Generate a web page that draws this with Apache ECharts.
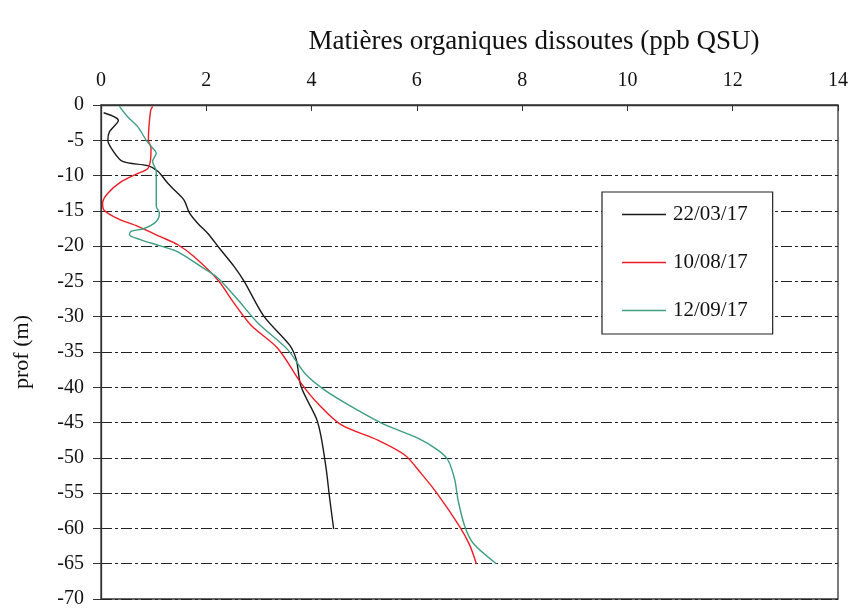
<!DOCTYPE html>
<html>
<head>
<meta charset="utf-8">
<script src="https://cdn.jsdelivr.net/npm/echarts@6/dist/echarts.min.js"></script>
<style>html,body{margin:0;padding:0;background:#fff}#c{width:851px;height:612px}</style>
</head>
<body>
<div id="c"></div>
<script>
// Data (value in ppb QSU, depth in m)
const seriesNames = ['22/03/17', '10/08/17', '12/09/17'];

const blackVal   = [0.05, 0.33, 0.16, 0.13, 0.22, 0.41, 0.89, 1.08, 1.27, 1.43, 1.58, 1.68, 1.84, 2.03, 2.25, 2.53, 2.72, 3.10, 3.58, 3.71, 3.80, 4.09, 4.18, 4.28, 4.34, 4.42];
const blackDepth = [-1.1, -2.2, -3.8, -5.0, -6.4, -8.0, -8.6, -9.4, -11.1, -12.3, -13.5, -15.3, -16.8, -18.2, -20.3, -22.9, -25.0, -30.0, -34.0, -36.1, -39.9, -44.4, -47.0, -51.7, -55.5, -60.1];

const redVal   = [0.98, 0.94, 0.90, 0.95, 0.94, 0.89, 0.70, 0.38, 0.13, 0.03, 0.06, 0.32, 0.70, 1.14, 1.46, 1.77, 2.22, 2.53, 2.85, 3.36, 3.80, 4.12, 4.56, 5.26, 5.77, 6.08, 6.40, 6.81, 7.00, 7.13];
const redDepth = [-0.2, -0.9, -5.0, -6.1, -7.8, -9.0, -9.7, -10.9, -12.5, -13.9, -14.9, -16.1, -17.2, -18.7, -19.8, -21.5, -24.8, -28.1, -31.2, -34.5, -39.4, -42.3, -45.3, -47.5, -49.6, -52.2, -55.2, -59.7, -62.3, -65.0];

const greenVal   = [0.35, 0.51, 0.70, 0.86, 0.98, 1.05, 0.98, 1.05, 1.05, 1.11, 1.05, 0.82, 0.57, 0.54, 0.76, 1.14, 1.46, 1.90, 2.22, 2.60, 2.98, 3.55, 3.87, 4.25, 4.75, 5.39, 6.02, 6.40, 6.59, 6.72, 6.78, 6.91, 7.07, 7.51];
const greenDepth = [-0.2, -1.7, -3.1, -5.0, -6.1, -6.8, -8.0, -9.4, -14.4, -15.3, -16.5, -17.5, -17.9, -18.4, -19.1, -20.0, -20.8, -22.9, -24.5, -27.6, -30.9, -34.7, -38.0, -40.4, -42.7, -45.3, -47.2, -48.9, -50.3, -53.1, -55.9, -59.7, -62.1, -65.0];

const xTicks = [0, 2, 4, 6, 8, 10, 12, 14];
const yTicks = [0, -5, -10, -15, -20, -25, -30, -35, -40, -45, -50, -55, -60, -65, -70];

const titleText = 'Matières organiques dissoutes (ppb QSU)';
const yName = 'prof (m)';

const colors = ['#1a1a1a', '#ee1c25', '#3d9e80'];

function pairs(xs, ys) { return xs.map((v, i) => [v, ys[i]]); }

const font = '"Liberation Serif", "Times New Roman", serif';
const chart = echarts.init(document.getElementById('c'));
chart.setOption({
  animation: false,
  backgroundColor: '#fff',
  textStyle: { fontFamily: font },
  graphic: [{
    type: 'text', x: 534, y: 42,
    style: { text: titleText, font: '27px ' + font, fill: '#111', textAlign: 'center', textVerticalAlign: 'middle' }
  }],
  grid: { left: 101, right: 12, top: 105, bottom: 13, show: true, borderColor: '#333', borderWidth: 1.3, containLabel: false },
  legend: {
    orient: 'vertical', left: 602, top: 192,
    data: seriesNames,
    icon: 'rect',
    backgroundColor: '#fff', borderColor: '#222', borderWidth: 1.2,
    padding: [12, 25, 13, 20], itemGap: 27, itemWidth: 44, itemHeight: 1.5,
    textStyle: { fontFamily: font, fontSize: 21, color: '#111', padding: [0, 0, 0, 2] }
  },
  xAxis: {
    type: 'value', position: 'top', min: 0, max: 14, interval: 2,
    axisLine: { show: true, lineStyle: { color: '#333', width: 1.3 } },
    axisTick: { show: true, inside: true, length: 6, lineStyle: { color: '#333' } },
    axisLabel: { fontFamily: font, fontSize: 20, color: '#111', margin: 14,
      formatter: v => xTicks.includes(v) ? String(v) : '' },
    splitLine: { show: false }
  },
  yAxis: {
    type: 'value', min: -70, max: 0, interval: 5,
    name: yName, nameLocation: 'middle', nameGap: 68, nameRotate: 90,
    nameTextStyle: { fontFamily: font, fontSize: 22, color: '#111' },
    axisLine: { show: true, onZero: false, lineStyle: { color: '#333', width: 1.3 } },
    axisTick: { show: true, length: 8, lineStyle: { color: '#333' } },
    axisLabel: { fontFamily: font, fontSize: 20, color: '#111', margin: 17,
      formatter: v => yTicks.includes(v) ? String(v) : '' },
    splitLine: { show: true, lineStyle: { color: '#222', width: 1.2, type: [11, 3, 3, 3] } }
  },
  series: [
    { name: seriesNames[0], type: 'line', data: pairs(blackVal, blackDepth), symbol: 'none', smooth: 0.3, lineStyle: { color: colors[0], width: 1.4 }, itemStyle: { color: colors[0] }, z: 3 },
    { name: seriesNames[1], type: 'line', data: pairs(redVal, redDepth), symbol: 'none', smooth: 0.3, lineStyle: { color: colors[1], width: 1.4 }, itemStyle: { color: colors[1] }, z: 3 },
    { name: seriesNames[2], type: 'line', data: pairs(greenVal, greenDepth), symbol: 'none', smooth: 0.3, lineStyle: { color: colors[2], width: 1.4 }, itemStyle: { color: colors[2] }, z: 3 }
  ]
});
</script>
</body>
</html>
